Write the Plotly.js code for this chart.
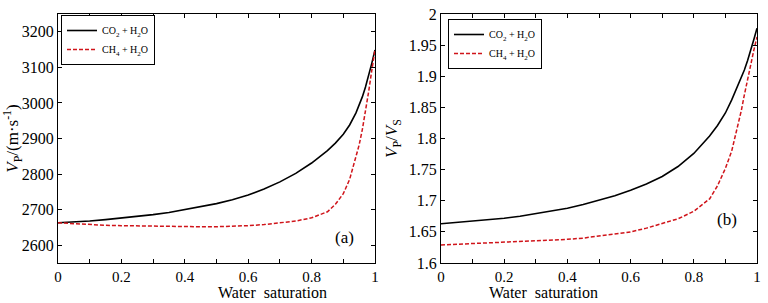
<!DOCTYPE html>
<html>
<head>
<meta charset="utf-8">
<script src="https://cdn.plot.ly/plotly-3.0.1.min.js"></script>
<style>html,body{margin:0;padding:0;background:#fff;}#chart{width:768px;height:303px;}</style>
</head>
<body>
<div id="chart"></div>
<script>
// Water saturation
const sw = [0, 0.05, 0.1, 0.15, 0.2, 0.25, 0.3, 0.35, 0.4, 0.45, 0.5, 0.55, 0.6, 0.65, 0.7, 0.75, 0.8, 0.85, 0.875, 0.9, 0.92, 0.94, 0.95, 0.96, 0.97, 0.98, 0.99, 1.0];
// (a) Vp (m/s)
const vpCO2 = [2663, 2665, 2668, 2672, 2676, 2681, 2686, 2692, 2700, 2708, 2717, 2728, 2741, 2758, 2778, 2802, 2831, 2866, 2887, 2912, 2938, 2972, 2993, 3017, 3045, 3077, 3112, 3149];
const vpCH4 = [2663, 2660, 2658, 2656, 2655, 2654, 2653, 2652, 2652, 2652, 2652, 2653, 2655, 2658, 2662, 2668, 2677, 2694, 2715, 2745, 2785, 2845, 2882, 2925, 2975, 3032, 3092, 3150];
// (b) Vp/Vs
const ratioCO2 = [1.663, 1.665, 1.667, 1.669, 1.672, 1.675, 1.679, 1.683, 1.688, 1.694, 1.701, 1.708, 1.717, 1.727, 1.739, 1.755, 1.776, 1.804, 1.821, 1.841, 1.862, 1.885, 1.897, 1.910, 1.925, 1.941, 1.959, 1.977];
const ratioCH4 = [1.629, 1.630, 1.631, 1.632, 1.633, 1.634, 1.635, 1.636, 1.638, 1.640, 1.643, 1.646, 1.650, 1.656, 1.663, 1.671, 1.683, 1.703, 1.724, 1.752, 1.780, 1.820, 1.844, 1.870, 1.896, 1.920, 1.942, 1.963];

const nameCO2 = 'CO<sub>2</sub> + H<sub>2</sub>O';
const nameCH4 = 'CH<sub>4</sub> + H<sub>2</sub>O';
const xTicks = [0, 0.2, 0.4, 0.6, 0.8, 1];
const xTickText = ['0', '0.2', '0.4', '0.6', '0.8', '1'];
const xTitle = 'Water  saturation';

const black = {color: '#000000', width: 1.6};
const red = {color: '#d0141a', width: 1.5, dash: '4px,2px'};

const traces = [
  {x: sw, y: vpCO2, mode: 'lines', name: nameCO2, line: black, xaxis: 'x', yaxis: 'y', legend: 'legend'},
  {x: sw, y: vpCH4, mode: 'lines', name: nameCH4, line: red, xaxis: 'x', yaxis: 'y', legend: 'legend'},
  {x: sw, y: ratioCO2, mode: 'lines', name: nameCO2, line: black, xaxis: 'x2', yaxis: 'y2', legend: 'legend2'},
  {x: sw, y: ratioCH4, mode: 'lines', name: nameCH4, line: red, xaxis: 'x2', yaxis: 'y2', legend: 'legend2'}
];

const FAM = 'Liberation Serif';
const font = {family: FAM, color: '#000', size: 16};
const axisBase = {
  showgrid: false, zeroline: false, showline: true, linecolor: '#000', linewidth: 1,
  mirror: 'allticks', ticks: 'inside', ticklen: 4, tickcolor: '#000', tickwidth: 1,
  tickfont: {family: FAM, size: 16, color: '#000'}
};
const xBase = Object.assign({}, axisBase, {
  range: [0, 1], tickmode: 'array', tickvals: xTicks, ticktext: xTickText,
  tickfont: {family: FAM, size: 15, color: '#000'},
  minor: {dtick: 0.1, tick0: 0, ticks: 'inside', ticklen: 4, tickcolor: '#000', tickwidth: 1, showgrid: false}
});

const legendBase = {
  bgcolor: '#fff', bordercolor: '#000', borderwidth: 1,
  font: {family: FAM, size: 10, color: '#000'},
  xanchor: 'left', yanchor: 'top', tracegroupgap: 0, itemwidth: 30
};

const titleFont = {family: FAM, size: 16, color: '#000'};
const layout = {
  width: 768, height: 303,
  margin: {l: 0, r: 0, t: 0, b: 0},
  paper_bgcolor: '#fff', plot_bgcolor: '#fff',
  font: font,
  showlegend: true,
  xaxis: Object.assign({}, xBase, {domain: [58/768, 375/768], anchor: 'y'}),
  xaxis2: Object.assign({}, xBase, {domain: [441/768, 757/768], anchor: 'y2'}),
  yaxis: Object.assign({}, axisBase, {
    domain: [1 - 263/303, 1 - 14/303], anchor: 'x', range: [2550, 3250], dtick: 100, tick0: 2600,
    title: {text: '<i>V</i><sub>P</sub>/(m·s<sup>-1</sup>)', font: {family: FAM, size: 17, color: '#000'}, standoff: 6}
  }),
  yaxis2: Object.assign({}, axisBase, {
    domain: [1 - 263/303, 1 - 14/303], anchor: 'x2', range: [1.6, 2.0], dtick: 0.05, tick0: 1.6,
    title: {text: '<i>V</i><sub>P</sub>/<i>V</i><sub>S</sub>', font: {family: FAM, size: 17, color: '#000'}, standoff: 6}
  }),
  legend: Object.assign({}, legendBase, {x: 61/768, y: 1 - 15/303, xref: 'paper', yref: 'paper'}),
  legend2: Object.assign({}, legendBase, {x: 448/768, y: 1 - 19/303, xref: 'paper', yref: 'paper'}),
  annotations: [
    {text: xTitle, xref: 'paper', yref: 'paper', x: (58 + 375) / 2 / 768, y: 1 - 283/303, yanchor: 'top', showarrow: false, font: titleFont, borderpad: 0},
    {text: xTitle, xref: 'paper', yref: 'paper', x: (441 + 757) / 2 / 768, y: 1 - 283/303, yanchor: 'top', showarrow: false, font: titleFont, borderpad: 0},
    {text: '(a)', xref: 'x', yref: 'y', x: 0.905, y: 2622, showarrow: false, font: {family: FAM, size: 17, color: '#000'}},
    {text: '(b)', xref: 'x2', yref: 'y2', x: 0.905, y: 1.6695, showarrow: false, font: {family: FAM, size: 17, color: '#000'}}
  ]
};

Plotly.newPlot('chart', traces, layout, {displayModeBar: false, staticPlot: true});
</script>
</body>
</html>
